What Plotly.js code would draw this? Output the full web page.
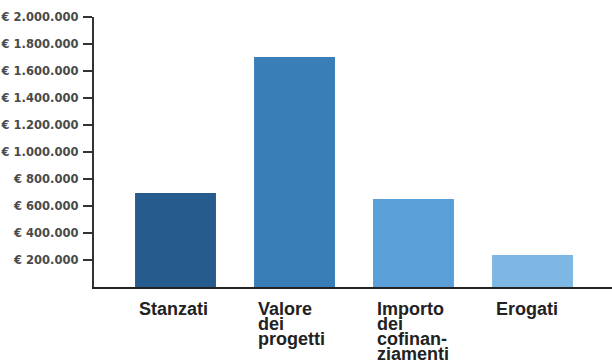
<!DOCTYPE html>
<html>
<head>
<meta charset="utf-8">
<script src="https://cdn.plot.ly/plotly-3.0.1.min.js"></script>
<style>html,body{margin:0;padding:0;background:#fff;}#chart{width:612px;height:360px;}</style>
</head>
<body>
<div id="chart"></div>
<script>
// Data
const categories = ["Stanzati", "Valore dei progetti", "Importo dei cofinanziamenti", "Erogati"];
const labelLines = [["Stanzati"], ["Valore", "dei", "progetti"], ["Importo", "dei", "cofinan-", "ziamenti"], ["Erogati"]];
const values = [696000, 1704000, 652000, 237000];
const barColors = ["#255b8d", "#3a7eb7", "#5b9fd9", "#7db7e3"];
const tickVals = [200000, 400000, 600000, 800000, 1000000, 1200000, 1400000, 1600000, 1800000, 2000000];
const tickText = ["€ 200.000", "€ 400.000", "€ 600.000", "€ 800.000", "€ 1.000.000", "€ 1.200.000", "€ 1.400.000", "€ 1.600.000", "€ 1.800.000", "€ 2.000.000"];

const annotations = [];
labelLines.forEach((lines, i) => {
  lines.forEach((ln, j) => {
    annotations.push({
      x: categories[i], xref: "x", y: 0, yref: "paper",
      xanchor: "left", yanchor: "top",
      xshift: -39, yshift: -10 - 15 * j,
      text: ln, showarrow: false,
      font: {family: "Liberation Sans, Arial, sans-serif", size: 18, color: "#222", weight: "bold"}
    });
  });
});

const trace = {
  type: "bar",
  x: categories,
  y: values,
  width: 0.68,
  marker: {color: barColors, line: {width: 0}},
  hoverinfo: "none"
};

const layout = {
  width: 612, height: 360,
  margin: {l: 94, r: 0, t: 17, b: 73, pad: 0},
  paper_bgcolor: "#ffffff", plot_bgcolor: "#ffffff",
  showlegend: false,
  bargap: 0.3,
  xaxis: {
    type: "category",
    range: [-0.685, 3.668],
    showticklabels: false,
    ticks: "",
    showgrid: false, zeroline: false,
    showline: true, linecolor: "#222", linewidth: 2,
    fixedrange: true
  },
  yaxis: {
    range: [0, 2000000],
    tickvals: tickVals, ticktext: tickText,
    ticks: "outside", ticklen: 9, tickwidth: 2, tickcolor: "#333",
    ticklabelstandoff: 2,
    tickfont: {family: "DejaVu Sans Condensed, DejaVu Sans, sans-serif", size: 12.8, color: "#4a4a4a", weight: "bold"},
    showgrid: false, zeroline: false,
    showline: true, linecolor: "#333", linewidth: 2,
    fixedrange: true
  },
  annotations: annotations
};

Plotly.newPlot("chart", [trace], layout, {staticPlot: true, displayModeBar: false});
</script>
</body>
</html>
